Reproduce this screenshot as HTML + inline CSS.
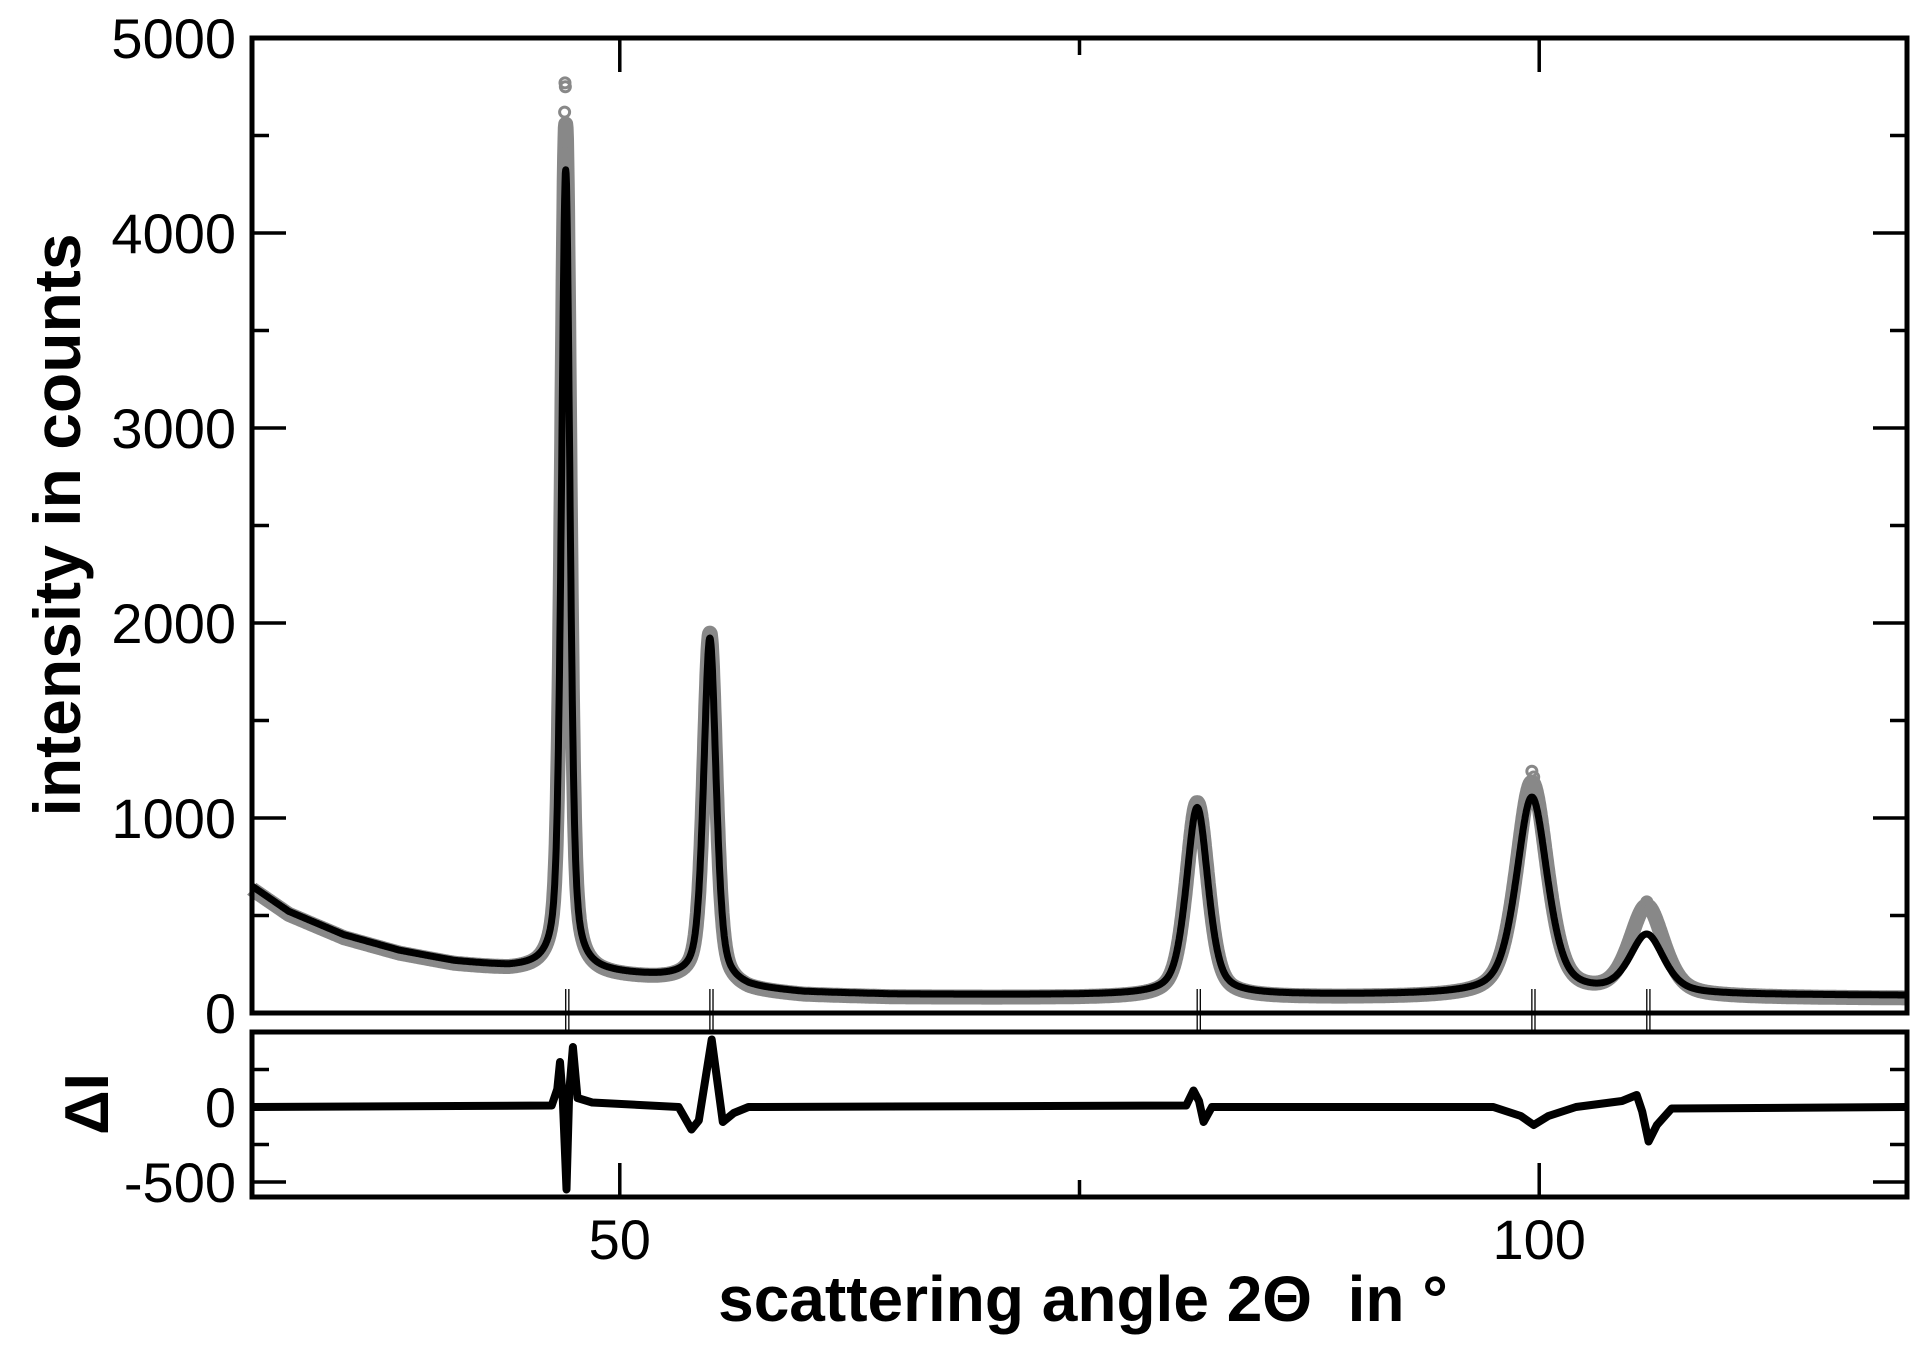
<!DOCTYPE html>
<html><head><meta charset="utf-8"><style>
html,body{margin:0;padding:0;background:#fff;}
svg{display:block;font-family:"Liberation Sans",sans-serif;}
</style></head><body>
<svg id="chart" width="1929" height="1361" viewBox="0 0 1929 1361" xmlns="http://www.w3.org/2000/svg">
<g id="mainData"></g>
<g id="resData"></g>
<g id="axes"></g>
<text transform="translate(80,525) rotate(-90)" text-anchor="middle" font-size="66" font-weight="bold">intensity in counts</text>
<text transform="translate(108,1104) rotate(-90)" text-anchor="middle" font-size="62" font-weight="bold">ΔI</text>
<text x="1083" y="1321" text-anchor="middle" font-size="64" font-weight="bold">scattering angle 2Θ&#160; in °</text>
</svg>
<script>
// ---- data ----
const peakPos = [47.06, 54.9, 81.4, 99.6, 105.85];
const fitHeights = [4100, 1760, 960, 1010, 300];
const obsHeights = [4350, 1800, 1000, 1100, 460];
const peakFwhm = [0.55, 0.8, 1.4, 2.0, 2.2];
const bgX = [30, 32, 35, 38, 41, 44, 46, 49, 52, 54, 57, 60, 65, 75, 95, 110, 120];
const bgY = [650, 520, 400, 320, 265, 235, 230, 205, 185, 175, 125, 105, 95, 92, 92, 92, 90];
const obsTopX = [47.02, 47.04, 47.0, 47.06, 47.03, 47.05, 99.6, 99.7, 105.85, 105.9];
const obsTopY = [4770, 4750, 4620, 4470, 4430, 4350, 1240, 1210, 570, 540];
const resX = [30, 46.3, 46.6, 46.75, 46.9, 47.1, 47.25, 47.45, 47.7, 48.5, 53.2, 53.9, 54.3, 55.0, 55.6, 56.2, 57, 80.8, 81.2, 81.5, 81.75, 82.2, 97.5, 99.0, 99.7, 100.5, 102, 104.5, 105.3, 105.6, 105.95, 106.4, 107.2, 120];
const resY = [0, 10, 120, 300, 50, -550, 100, 400, 60, 30, 0, -150, -90, 450, -100, -40, 0, 10, 110, 40, -100, 0, 0, -60, -120, -60, 0, 40, 80, -30, -230, -120, -10, 0];
const xTicks = [50, 100];
const xMinor = [75];
const yTicks = [0, 1000, 2000, 3000, 4000, 5000];
const yMinor = [500, 1500, 2500, 3500, 4500];
const rTicks = [-500, 0];
const rMinor = [-250, 250];
// ---- scales ----
const L = 252, R = 1907, T = 38, B = 1013, RT = 1032, RB = 1197;
const X = v => L + (v - 30) / 90 * (R - L);
const Y = v => B - v / 5000 * (B - T);
const RY = v => 1107 - v * 0.15;
const NS = 'http://www.w3.org/2000/svg';
function el(tag, attrs, parent) { const e = document.createElementNS(NS, tag); for (const k in attrs) e.setAttribute(k, attrs[k]); parent.appendChild(e); return e; }
function bg(x) { for (let i = 0; i < bgX.length - 1; i++) { if (x <= bgX[i + 1]) { const t = (x - bgX[i]) / (bgX[i + 1] - bgX[i]); return bgY[i] + t * (bgY[i + 1] - bgY[i]); } } return bgY[bgY.length - 1]; }
function profile(x, heights) { let s = bg(x); for (let i = 0; i < peakPos.length; i++) { const d = (x - peakPos[i]) / (peakFwhm[i] / 2); const lor = 1 / (1 + d * d); const gau = Math.exp(-0.6931 * d * d); s += heights[i] * (0.5 * lor + 0.5 * gau); } return s; }
function pathOf(fn) { let d = ''; for (let x = 30; x <= 120.0001; x += 0.02) { d += (d ? 'L' : 'M') + X(x).toFixed(1) + ',' + fn(x).toFixed(1); } return d; }
const md = document.getElementById('mainData');
const obs = el('path', { d: pathOf(x => Y(profile(x, obsHeights)) + 3), fill: 'none', stroke: '#888', 'stroke-width': 15, 'stroke-linejoin': 'round' }, md);


for (let i = 0; i < obsTopX.length; i++) {
  const c = el('circle', { cx: X(obsTopX[i]), cy: Y(obsTopY[i]), r: 5, fill: 'none', stroke: '#888', 'stroke-width': 3 }, md);
  
  
}
const fit = el('path', { d: pathOf(x => Y(profile(x, fitHeights))), fill: 'none', stroke: '#000', 'stroke-width': 7, 'stroke-linejoin': 'round' }, md);


for (let i = 0; i < peakPos.length; i++) {
  for (const off of [0, 0.17]) {
    const m = el('line', { x1: X(peakPos[i] + off), x2: X(peakPos[i] + off), y1: 989, y2: 1031, stroke: '#000', 'stroke-width': 1.3 }, md);
    
    
  }
}
const rd = document.getElementById('resData');
let rp = '';
for (let i = 0; i < resX.length; i++) rp += (i ? 'L' : 'M') + X(resX[i]).toFixed(1) + ',' + RY(resY[i]).toFixed(1);
const res = el('path', { d: rp, fill: 'none', stroke: '#000', 'stroke-width': 8, 'stroke-linejoin': 'round' }, rd);


// ---- axes ----
const ax = document.getElementById('axes');
const f1 = el('rect', { x: L, y: T, width: R - L, height: B - T, fill: 'none', stroke: '#000', 'stroke-width': 5 }, ax);


const f2 = el('rect', { x: L, y: RT, width: R - L, height: RB - RT, fill: 'none', stroke: '#000', 'stroke-width': 5 }, ax);


function tick(x1, y1, x2, y2, name) { const t = el('line', { x1, y1, x2, y2, stroke: '#000', 'stroke-width': 3.5 }, ax);   }
function label(x, y, s, anchor, name) { const t = el('text', { x, y, 'font-size': 56, 'text-anchor': anchor }, ax); t.textContent = s;   }
yTicks.forEach(v => { tick(L, Y(v), L + 34, Y(v), 'y-major-tick'); tick(R, Y(v), R - 34, Y(v), 'y-major-tick'); label(236, Y(v) + 20, String(v), 'end', 'y-tick-label'); });
yMinor.forEach(v => { tick(L, Y(v), L + 17, Y(v), 'y-minor-tick'); tick(R, Y(v), R - 17, Y(v), 'y-minor-tick'); });
rTicks.forEach(v => { tick(L, RY(v), L + 34, RY(v), 'residual-major-tick'); tick(R, RY(v), R - 34, RY(v), 'residual-major-tick'); label(236, RY(v) + 20, String(v), 'end', 'residual-tick-label'); });
rMinor.forEach(v => { tick(L, RY(v), L + 17, RY(v), 'residual-minor-tick'); tick(R, RY(v), R - 17, RY(v), 'residual-minor-tick'); });
xTicks.forEach(v => { tick(X(v), RB, X(v), RB - 34, 'x-major-tick'); tick(X(v), T, X(v), T + 34, 'x-major-tick'); label(X(v), 1259, String(v), 'middle', 'x-tick-label'); });
xMinor.forEach(v => { tick(X(v), RB, X(v), RB - 17, 'x-minor-tick'); tick(X(v), T, X(v), T + 17, 'x-minor-tick'); });
</script>
</body></html>
